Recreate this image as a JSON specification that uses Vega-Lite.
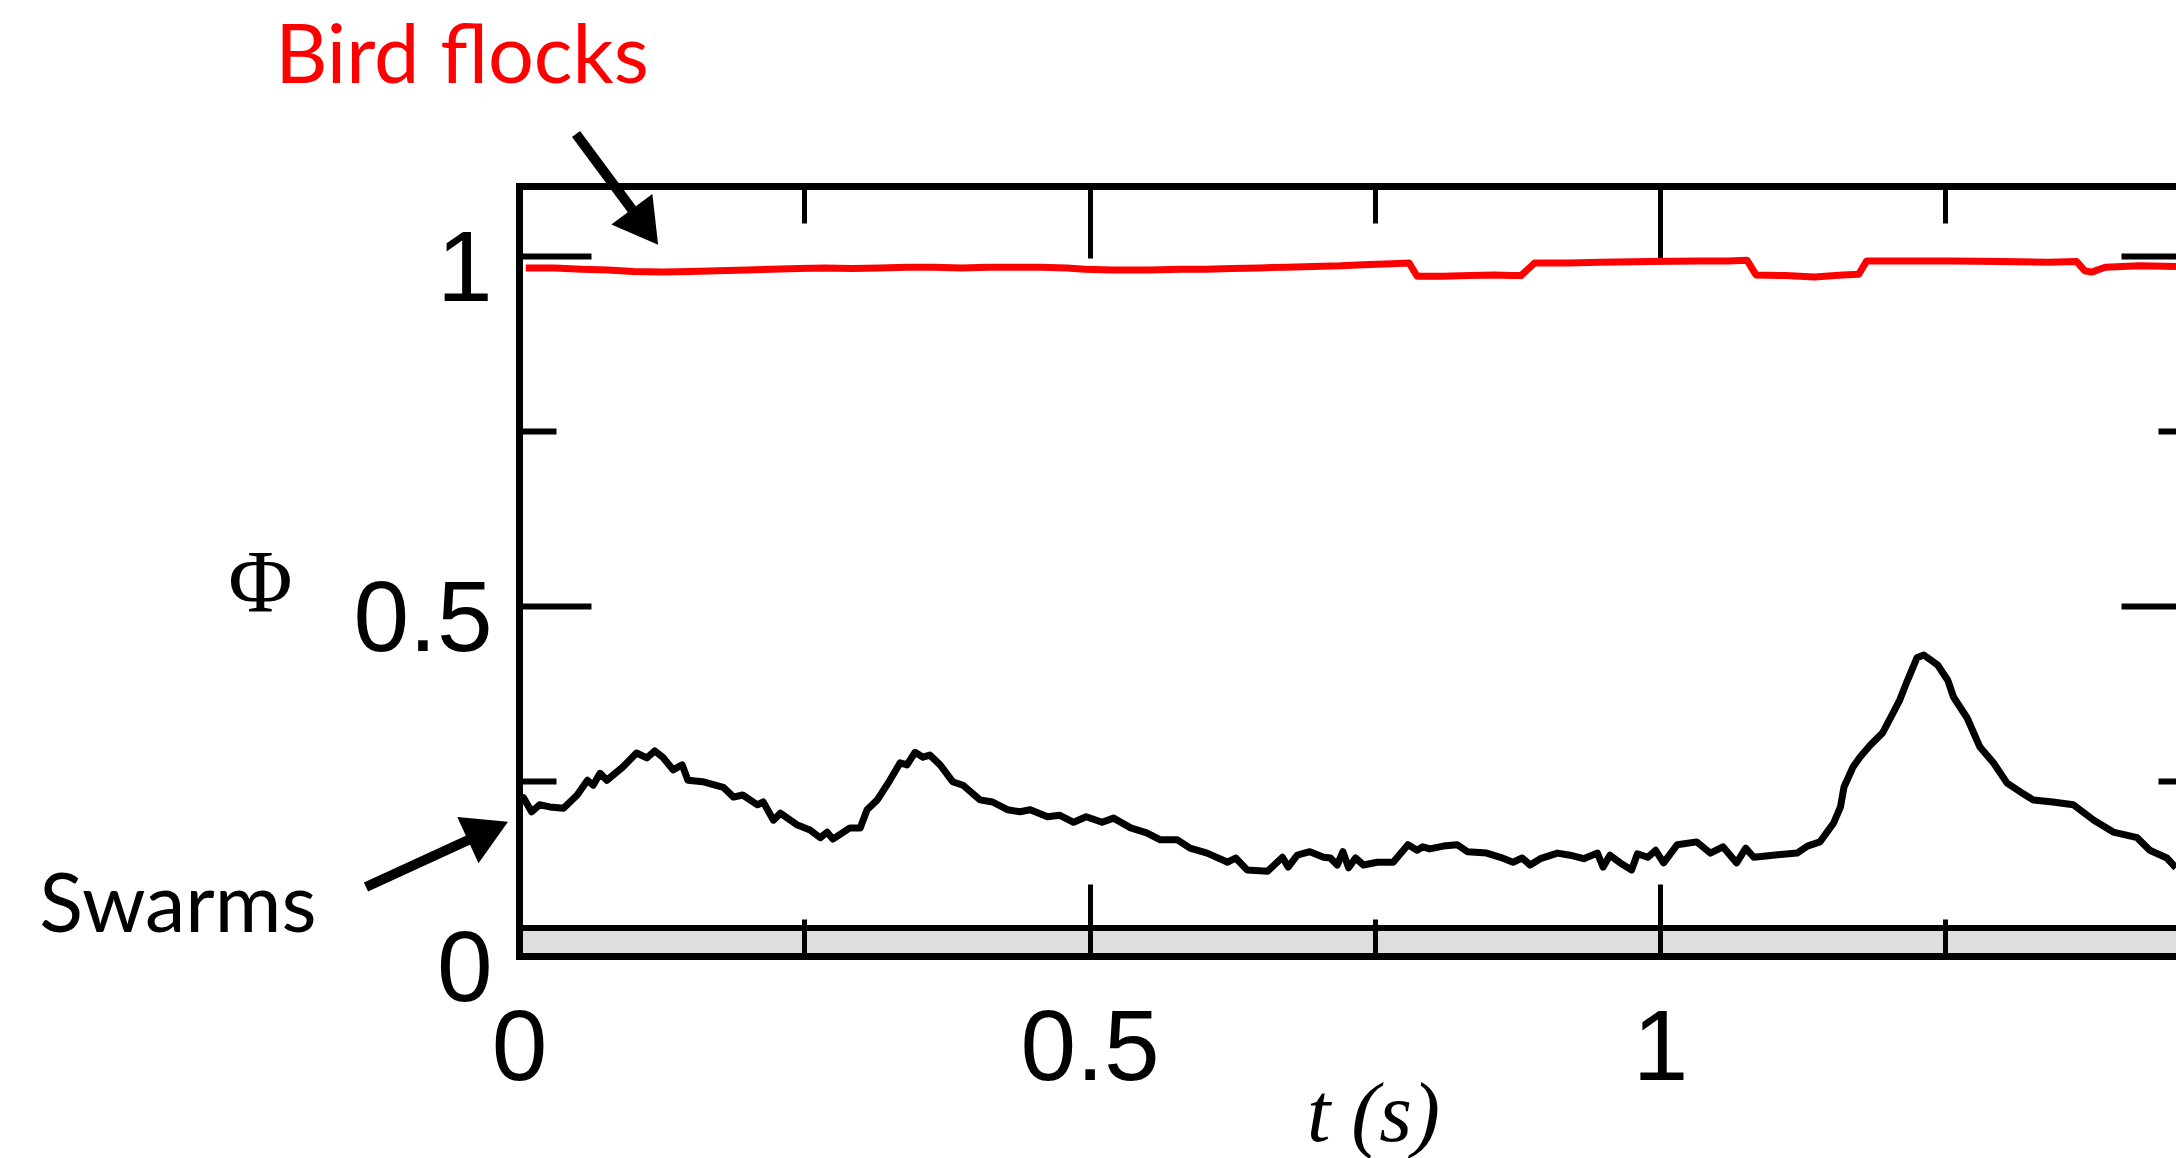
{
  "$schema": "https://vega.github.io/schema/vega-lite/v6.json",
  "width": 1657,
  "height": 770,
  "autosize": {"type": "none"},
  "padding": {"left": 519, "top": 186, "right": 0, "bottom": 202},
  "background": "white",
  "config": {
    "view": {"stroke": null},
    "axis": {"zindex": 1, "grid": false, "domainColor": "black", "tickColor": "black", "labelColor": "black", "titleColor": "black", "labelFont": "Liberation Sans", "labelFontSize": 100, "labelFlush": false, "labelOverlap": false, "labelBound": false}
  },
  "datasets": {
    "band": [{"t0": 0, "t1": 1.452, "p0": 0, "p1": 0.04}],
    "flocks": [
      {"t": 0.006, "phi": 0.983}, {"t": 0.031, "phi": 0.983}, {"t": 0.055, "phi": 0.981}, {"t": 0.078, "phi": 0.980},
      {"t": 0.100, "phi": 0.978}, {"t": 0.126, "phi": 0.977}, {"t": 0.150, "phi": 0.978}, {"t": 0.174, "phi": 0.979},
      {"t": 0.200, "phi": 0.980}, {"t": 0.221, "phi": 0.981}, {"t": 0.245, "phi": 0.982}, {"t": 0.268, "phi": 0.983},
      {"t": 0.292, "phi": 0.982}, {"t": 0.316, "phi": 0.983}, {"t": 0.340, "phi": 0.984}, {"t": 0.364, "phi": 0.984},
      {"t": 0.388, "phi": 0.983}, {"t": 0.411, "phi": 0.984}, {"t": 0.435, "phi": 0.984}, {"t": 0.458, "phi": 0.984},
      {"t": 0.480, "phi": 0.983}, {"t": 0.496, "phi": 0.981}, {"t": 0.520, "phi": 0.980}, {"t": 0.553, "phi": 0.980},
      {"t": 0.580, "phi": 0.981}, {"t": 0.601, "phi": 0.981}, {"t": 0.625, "phi": 0.982}, {"t": 0.649, "phi": 0.983},
      {"t": 0.672, "phi": 0.984}, {"t": 0.696, "phi": 0.985}, {"t": 0.720, "phi": 0.986}, {"t": 0.745, "phi": 0.988},
      {"t": 0.765, "phi": 0.989}, {"t": 0.780, "phi": 0.990}, {"t": 0.787, "phi": 0.971}, {"t": 0.810, "phi": 0.971},
      {"t": 0.833, "phi": 0.972}, {"t": 0.855, "phi": 0.973}, {"t": 0.870, "phi": 0.972}, {"t": 0.878, "phi": 0.972},
      {"t": 0.890, "phi": 0.990}, {"t": 0.920, "phi": 0.990}, {"t": 0.947, "phi": 0.991}, {"t": 0.990, "phi": 0.992},
      {"t": 1.035, "phi": 0.993}, {"t": 1.060, "phi": 0.993}, {"t": 1.076, "phi": 0.994}, {"t": 1.084, "phi": 0.973},
      {"t": 1.110, "phi": 0.972}, {"t": 1.135, "phi": 0.970}, {"t": 1.160, "phi": 0.973}, {"t": 1.174, "phi": 0.974},
      {"t": 1.181, "phi": 0.993}, {"t": 1.220, "phi": 0.993}, {"t": 1.254, "phi": 0.993}, {"t": 1.300, "phi": 0.992},
      {"t": 1.340, "phi": 0.991}, {"t": 1.365, "phi": 0.992}, {"t": 1.372, "phi": 0.979}, {"t": 1.378, "phi": 0.977},
      {"t": 1.390, "phi": 0.984}, {"t": 1.420, "phi": 0.986}, {"t": 1.452, "phi": 0.985}
    ],
    "swarms": [
      {"t": 0.000, "phi": 0.220}, {"t": 0.004, "phi": 0.226}, {"t": 0.011, "phi": 0.206}, {"t": 0.018, "phi": 0.216},
      {"t": 0.027, "phi": 0.213}, {"t": 0.039, "phi": 0.211}, {"t": 0.051, "phi": 0.230}, {"t": 0.060, "phi": 0.251},
      {"t": 0.065, "phi": 0.244}, {"t": 0.071, "phi": 0.261}, {"t": 0.077, "phi": 0.251}, {"t": 0.091, "phi": 0.270},
      {"t": 0.103, "phi": 0.290}, {"t": 0.112, "phi": 0.283}, {"t": 0.119, "phi": 0.293}, {"t": 0.126, "phi": 0.284},
      {"t": 0.135, "phi": 0.266}, {"t": 0.143, "phi": 0.273}, {"t": 0.148, "phi": 0.251}, {"t": 0.161, "phi": 0.249},
      {"t": 0.179, "phi": 0.241}, {"t": 0.188, "phi": 0.227}, {"t": 0.196, "phi": 0.230}, {"t": 0.209, "phi": 0.216},
      {"t": 0.214, "phi": 0.220}, {"t": 0.223, "phi": 0.194}, {"t": 0.229, "phi": 0.204}, {"t": 0.244, "phi": 0.187},
      {"t": 0.255, "phi": 0.180}, {"t": 0.264, "phi": 0.169}, {"t": 0.270, "phi": 0.177}, {"t": 0.275, "phi": 0.167},
      {"t": 0.290, "phi": 0.183}, {"t": 0.299, "phi": 0.183}, {"t": 0.305, "phi": 0.209}, {"t": 0.314, "phi": 0.223},
      {"t": 0.325, "phi": 0.251}, {"t": 0.334, "phi": 0.276}, {"t": 0.340, "phi": 0.273}, {"t": 0.347, "phi": 0.291},
      {"t": 0.354, "phi": 0.284}, {"t": 0.360, "phi": 0.287}, {"t": 0.369, "phi": 0.273}, {"t": 0.380, "phi": 0.249},
      {"t": 0.389, "phi": 0.244}, {"t": 0.404, "phi": 0.223}, {"t": 0.415, "phi": 0.220}, {"t": 0.428, "phi": 0.209},
      {"t": 0.439, "phi": 0.206}, {"t": 0.448, "phi": 0.209}, {"t": 0.463, "phi": 0.199}, {"t": 0.474, "phi": 0.201},
      {"t": 0.486, "phi": 0.191}, {"t": 0.497, "phi": 0.199}, {"t": 0.511, "phi": 0.191}, {"t": 0.521, "phi": 0.197},
      {"t": 0.536, "phi": 0.183}, {"t": 0.550, "phi": 0.176}, {"t": 0.562, "phi": 0.166}, {"t": 0.577, "phi": 0.166},
      {"t": 0.588, "phi": 0.154}, {"t": 0.603, "phi": 0.147}, {"t": 0.621, "phi": 0.134}, {"t": 0.628, "phi": 0.140},
      {"t": 0.638, "phi": 0.123}, {"t": 0.656, "phi": 0.121}, {"t": 0.669, "phi": 0.141}, {"t": 0.674, "phi": 0.127},
      {"t": 0.682, "phi": 0.144}, {"t": 0.693, "phi": 0.149}, {"t": 0.705, "phi": 0.141}, {"t": 0.711, "phi": 0.140},
      {"t": 0.717, "phi": 0.130}, {"t": 0.722, "phi": 0.149}, {"t": 0.727, "phi": 0.126}, {"t": 0.733, "phi": 0.140},
      {"t": 0.740, "phi": 0.130}, {"t": 0.752, "phi": 0.134}, {"t": 0.766, "phi": 0.134}, {"t": 0.779, "phi": 0.159},
      {"t": 0.787, "phi": 0.151}, {"t": 0.792, "phi": 0.156}, {"t": 0.798, "phi": 0.153}, {"t": 0.810, "phi": 0.157},
      {"t": 0.822, "phi": 0.159}, {"t": 0.831, "phi": 0.149}, {"t": 0.848, "phi": 0.147}, {"t": 0.860, "phi": 0.141},
      {"t": 0.871, "phi": 0.134}, {"t": 0.879, "phi": 0.140}, {"t": 0.886, "phi": 0.130}, {"t": 0.895, "phi": 0.139},
      {"t": 0.910, "phi": 0.147}, {"t": 0.921, "phi": 0.144}, {"t": 0.933, "phi": 0.139}, {"t": 0.945, "phi": 0.147},
      {"t": 0.950, "phi": 0.127}, {"t": 0.956, "phi": 0.144}, {"t": 0.965, "phi": 0.133}, {"t": 0.975, "phi": 0.123},
      {"t": 0.980, "phi": 0.146}, {"t": 0.989, "phi": 0.141}, {"t": 0.996, "phi": 0.151}, {"t": 1.003, "phi": 0.133},
      {"t": 1.015, "phi": 0.159}, {"t": 1.032, "phi": 0.163}, {"t": 1.044, "phi": 0.147}, {"t": 1.055, "phi": 0.156},
      {"t": 1.067, "phi": 0.133}, {"t": 1.075, "phi": 0.154}, {"t": 1.082, "phi": 0.141}, {"t": 1.099, "phi": 0.144},
      {"t": 1.120, "phi": 0.147}, {"t": 1.129, "phi": 0.157}, {"t": 1.140, "phi": 0.163}, {"t": 1.152, "phi": 0.190},
      {"t": 1.158, "phi": 0.213}, {"t": 1.161, "phi": 0.241}, {"t": 1.169, "phi": 0.270}, {"t": 1.175, "phi": 0.284},
      {"t": 1.184, "phi": 0.301}, {"t": 1.195, "phi": 0.319}, {"t": 1.204, "phi": 0.347}, {"t": 1.210, "phi": 0.366},
      {"t": 1.216, "phi": 0.391}, {"t": 1.225, "phi": 0.426}, {"t": 1.231, "phi": 0.430}, {"t": 1.243, "phi": 0.416},
      {"t": 1.252, "phi": 0.394}, {"t": 1.257, "phi": 0.370}, {"t": 1.269, "phi": 0.340}, {"t": 1.280, "phi": 0.299},
      {"t": 1.292, "phi": 0.276}, {"t": 1.304, "phi": 0.247}, {"t": 1.316, "phi": 0.234}, {"t": 1.327, "phi": 0.223},
      {"t": 1.344, "phi": 0.220}, {"t": 1.362, "phi": 0.216}, {"t": 1.380, "phi": 0.194}, {"t": 1.397, "phi": 0.177},
      {"t": 1.418, "phi": 0.169}, {"t": 1.429, "phi": 0.151}, {"t": 1.444, "phi": 0.140}, {"t": 1.452, "phi": 0.126}
    ],
    "arrows": [
      {"name": "flocks", "t": 0.0500, "phi": 1.1743, "t2": 0.1104, "phi2": 1.0414},
      {"name": "swarms", "t": -0.1341, "phi": 0.0986, "t2": -0.0272, "phi2": 0.1786}
    ],
    "labels": [
      {"name": "flocks", "t": -0.050, "phi": 1.2471, "label": "Bird flocks"},
      {"name": "swarms", "t": -0.2989, "phi": 0.0343, "label": "Swarms"}
    ]
  },
  "resolve": {"axis": {"x": "independent", "y": "independent"}},
  "layer": [
    {
      "data": {"name": "band"},
      "mark": {"type": "rect", "fill": "black", "fillOpacity": 0.13, "strokeWidth": 0},
      "encoding": {
        "x": {"field": "t0", "type": "quantitative",
              "scale": {"domain": [0, 1.452], "nice": false, "zero": false},
              "axis": {"orient": "bottom", "values": [0, 0.5, 1], "labelExpr": "'' + datum.value", "tickSize": -72, "tickWidth": 5, "labelPadding": 116, "labelBaseline": "top", "domainWidth": 7, "domainCap": "square",
                       "title": "t (s)", "titleFont": "Liberation Serif", "titleFontStyle": "italic", "titleFontWeight": "normal", "titleFontSize": 84, "titleX": 854, "titleY": 184, "titleAlign": "center", "titleBaseline": "alphabetic"}},
        "x2": {"field": "t1"},
        "y": {"field": "p0", "type": "quantitative",
              "scale": {"domain": [0, 1.1], "nice": false, "zero": false},
              "axis": {"orient": "left", "values": [0, 0.5, 1], "labelExpr": "'' + datum.value", "tickSize": -72, "tickWidth": 6, "labelPadding": 99, "labelOffset": 14, "labelAlign": "right", "labelBaseline": "middle", "domainWidth": 7, "domainCap": "square",
                       "title": "Φ", "titleFont": "Liberation Serif", "titleFontSize": 88, "titleFontWeight": "normal", "titleAngle": 0, "titleX": -259, "titleY": 424, "titleAlign": "center", "titleBaseline": "alphabetic"}},
        "y2": {"field": "p1"}
      }
    },
    {
      "data": {"name": "band"},
      "mark": {"type": "rule", "color": "black", "strokeWidth": 6},
      "encoding": {
        "x": {"field": "t0", "type": "quantitative",
              "scale": {"domain": [0, 1.452], "nice": false, "zero": false},
              "axis": {"orient": "bottom", "values": [0.25, 0.75, 1.25], "labels": false, "domain": false, "tickSize": -37, "tickWidth": 5, "title": null}},
        "x2": {"field": "t1"},
        "y": {"field": "p1", "type": "quantitative",
              "scale": {"domain": [0, 1.1], "nice": false, "zero": false},
              "axis": {"orient": "left", "values": [0.25, 0.75], "labels": false, "domain": false, "tickSize": -37, "tickWidth": 6, "title": null}}
      }
    },
    {
      "data": {"name": "flocks"},
      "mark": {"type": "line", "color": "#ff0000", "strokeWidth": 7, "clip": true, "strokeJoin": "round"},
      "encoding": {
        "x": {"field": "t", "type": "quantitative",
              "scale": {"domain": [0, 1.452], "nice": false, "zero": false},
              "axis": {"orient": "top", "values": [0.5, 1], "labels": false, "domainWidth": 7, "domainCap": "square", "tickSize": -72, "tickWidth": 5, "title": null}},
        "y": {"field": "phi", "type": "quantitative",
              "scale": {"domain": [0, 1.1], "nice": false, "zero": false},
              "axis": {"orient": "right", "offset": 19, "values": [0.5, 1], "labels": false, "domain": false, "tickSize": -74, "tickWidth": 6, "title": null}}
      }
    },
    {
      "data": {"name": "swarms"},
      "mark": {"type": "line", "color": "black", "strokeWidth": 7, "clip": true, "strokeJoin": "round"},
      "encoding": {
        "x": {"field": "t", "type": "quantitative",
              "scale": {"domain": [0, 1.452], "nice": false, "zero": false},
              "axis": {"orient": "top", "values": [0.25, 0.75, 1.25], "labels": false, "domain": false, "tickSize": -37, "tickWidth": 5, "title": null}},
        "y": {"field": "phi", "type": "quantitative",
              "scale": {"domain": [0, 1.1], "nice": false, "zero": false},
              "axis": {"orient": "right", "offset": 19, "values": [0.25, 0.75], "labels": false, "domain": false, "tickSize": -37, "tickWidth": 6, "title": null}}
      }
    },
    {
      "data": {"name": "arrows"},
      "mark": {"type": "rule", "color": "black", "strokeWidth": 10},
      "encoding": {
        "x": {"field": "t", "type": "quantitative", "axis": null},
        "y": {"field": "phi", "type": "quantitative", "axis": null},
        "x2": {"field": "t2"},
        "y2": {"field": "phi2"}
      }
    },
    {
      "data": {"name": "arrows"},
      "transform": [{"filter": "datum.name === 'flocks'"}],
      "mark": {"type": "point", "shape": "triangle-up", "filled": true, "color": "black", "opacity": 1, "size": 2600, "angle": 143.5},
      "encoding": {
        "x": {"field": "t2", "type": "quantitative", "axis": null},
        "y": {"field": "phi2", "type": "quantitative", "axis": null}
      }
    },
    {
      "data": {"name": "arrows"},
      "transform": [{"filter": "datum.name === 'swarms'"}],
      "mark": {"type": "point", "shape": "triangle-up", "filled": true, "color": "black", "opacity": 1, "size": 2600, "angle": 65.4},
      "encoding": {
        "x": {"field": "t2", "type": "quantitative", "axis": null},
        "y": {"field": "phi2", "type": "quantitative", "axis": null}
      }
    },
    {
      "data": {"name": "labels"},
      "transform": [{"filter": "datum.name === 'flocks'"}],
      "mark": {"type": "text", "font": "Lato", "fontSize": 81, "color": "#ff0000", "align": "center", "baseline": "alphabetic"},
      "encoding": {
        "x": {"field": "t", "type": "quantitative", "axis": null},
        "y": {"field": "phi", "type": "quantitative", "axis": null},
        "text": {"field": "label"}
      }
    },
    {
      "data": {"name": "labels"},
      "transform": [{"filter": "datum.name === 'swarms'"}],
      "mark": {"type": "text", "font": "Lato", "fontSize": 81, "color": "black", "align": "center", "baseline": "alphabetic"},
      "encoding": {
        "x": {"field": "t", "type": "quantitative", "axis": null},
        "y": {"field": "phi", "type": "quantitative", "axis": null},
        "text": {"field": "label"}
      }
    }
  ]
}
